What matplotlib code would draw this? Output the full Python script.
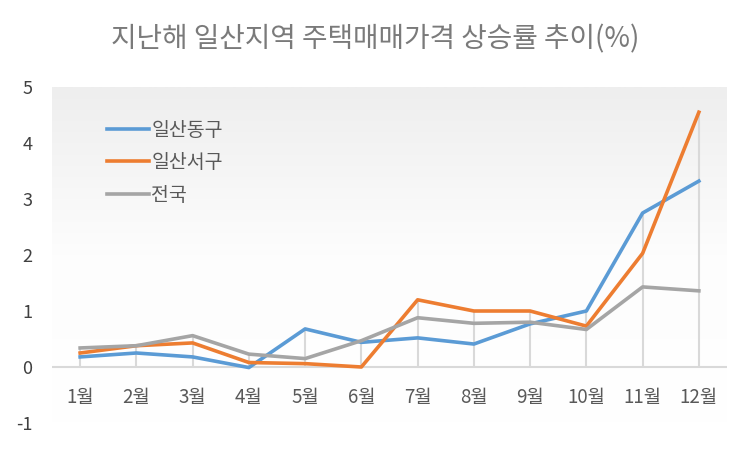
import numpy as np
import matplotlib.pyplot as plt
from matplotlib.colors import LinearSegmentedColormap

plt.rcParams['font.family'] = ['Noto Sans CJK KR', 'DejaVu Sans']
plt.rcParams['axes.unicode_minus'] = False

# data
months = ['1월', '2월', '3월', '4월', '5월', '6월', '7월', '8월', '9월', '10월', '11월', '12월']
ilsan_dong = [0.18, 0.25, 0.18, -0.01, 0.68, 0.44, 0.52, 0.41, 0.77, 1.0, 2.75, 3.32]
ilsan_seo = [0.25, 0.38, 0.43, 0.08, 0.06, 0.0, 1.2, 1.0, 1.0, 0.73, 2.03, 4.55]
national = [0.34, 0.38, 0.56, 0.23, 0.15, 0.47, 0.88, 0.78, 0.8, 0.67, 1.43, 1.36]

x = np.arange(1, len(months) + 1)

fig = plt.figure(figsize=(7.5, 4.49), dpi=100)
ax = fig.add_axes([52 / 750, 1 - 423 / 449, 675 / 750, 336 / 449])

# soft vertical gradient behind the plot
grad = np.linspace(0, 1, 256).reshape(-1, 1)
cmap = LinearSegmentedColormap.from_list('bg', ['#ffffff', '#fdfdfd', '#eeeeee'])
ax.imshow(grad, cmap=cmap, aspect='auto', extent=[0.5, 12.5, 5, -1],
          origin='upper', zorder=0)
ax.set_xlim(0.5, 12.5)
ax.set_ylim(-1, 5)

# drop lines from the highest point down to zero
tops = np.max([ilsan_dong, ilsan_seo, national], axis=0)
ax.vlines(x, 0, tops, color='#d9d9d9', lw=1.5, zorder=1)
ax.axhline(0, color='#d9d9d9', lw=1.5, zorder=1)

ax.plot(x, ilsan_dong, color='#5b9bd5', lw=2.6, label='일산동구', zorder=3)
ax.plot(x, ilsan_seo, color='#ed7d31', lw=2.6, label='일산서구', zorder=3)
ax.plot(x, national, color='#a5a5a5', lw=2.6, label='전국', zorder=3)

# month labels sit inside the plot below zero
for xi, m in zip(x, months):
    ax.text(xi, -0.55, m, ha='center', va='center', fontsize=13.5, color='#595959')

ax.set_xticks([])
ax.set_yticks(range(-1, 6))
ax.tick_params(axis='y', length=0, labelsize=13, labelcolor='#404040', pad=14)
for s in ax.spines.values():
    s.set_visible(False)

leg = ax.legend(loc='upper left', bbox_to_anchor=(0.055, 0.955), frameon=False,
                fontsize=14, handlelength=2.2, handletextpad=0.1,
                labelspacing=0.6, labelcolor='#595959')

fig.text(0.5, 0.913, '지난해 일산지역 주택매매가격 상승률 추이(%)', ha='center', va='center',
         fontsize=20, color='#7a7a7a')

fig.savefig('out.png', dpi=100)
